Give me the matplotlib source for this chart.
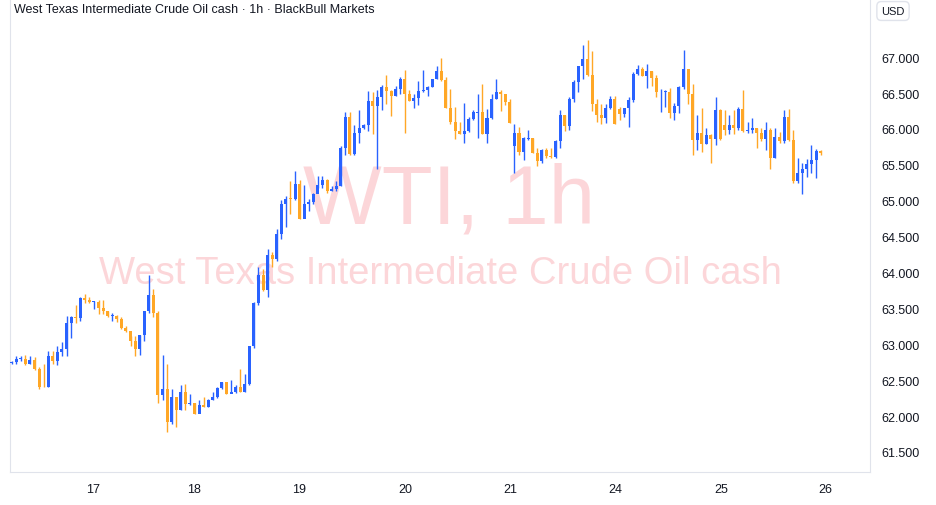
import matplotlib
matplotlib.use("Agg")
import matplotlib.pyplot as plt
from matplotlib.patches import Rectangle

plt.rcParams['font.family'] = ['Liberation Sans', 'DejaVu Sans']

closes = [62.75,62.80,62.80,62.73,62.78,62.65,62.41,62.40,62.83,62.76,62.89,62.93,63.30,63.38,63.36,63.65,63.61,63.59,63.59,63.50,
63.46,63.39,63.40,63.35,63.22,63.18,63.04,62.93,63.13,63.47,63.69,63.43,62.29,62.37,61.92,62.27,62.09,62.33,62.17,62.18,
62.03,62.15,62.13,62.23,62.27,62.39,62.48,62.31,62.33,62.41,62.34,62.44,62.97,63.58,63.97,63.76,64.25,64.19,64.54,64.95,
65.03,65.02,65.23,64.75,64.95,64.98,65.10,65.22,65.29,65.14,65.16,65.21,65.74,66.17,65.65,65.94,66.01,66.05,66.39,66.32,
66.44,66.58,66.53,66.46,66.55,66.69,66.49,66.39,66.43,66.53,66.54,66.59,66.69,66.81,66.68,66.29,66.10,65.97,65.93,65.97,
66.14,66.23,66.23,65.93,66.15,66.41,66.52,66.48,66.37,66.08,65.95,65.68,65.87,65.87,65.67,65.55,65.70,65.62,65.61,65.83,
66.19,66.04,66.41,66.66,66.87,66.97,66.75,66.35,66.19,66.15,66.29,66.41,66.07,66.21,66.29,66.40,66.76,66.83,66.74,66.80,
66.71,66.51,66.52,66.52,66.22,66.32,66.59,66.83,66.48,65.84,65.94,65.79,65.91,65.86,66.27,65.86,65.99,66.05,66.01,66.28,
65.97,65.98,66.01,65.94,65.86,65.98,65.59,65.89,65.83,66.17,65.85,65.27,65.39,65.44,65.51,65.56,65.69,65.67]
highs = [62.77,62.84,62.84,62.85,62.84,62.82,62.68,62.73,62.90,62.90,62.98,63.03,63.40,63.40,63.55,63.66,63.70,63.66,63.60,63.61,
63.62,63.46,63.44,63.41,63.38,63.25,63.11,63.11,63.13,63.47,63.97,63.77,63.47,62.85,62.73,62.38,62.26,62.43,62.45,62.31,
62.18,62.23,62.26,62.24,62.33,62.40,62.48,62.48,62.50,62.43,62.66,62.59,62.98,63.59,64.07,64.05,64.33,64.28,64.61,65.01,
65.07,65.28,65.42,65.29,65.22,65.02,65.11,65.35,65.35,65.30,65.21,65.28,65.76,66.24,66.24,66.05,66.27,66.07,66.53,66.52,
66.54,66.61,66.75,66.54,66.60,66.72,66.82,66.54,66.48,66.67,66.82,66.60,66.69,66.87,66.99,66.72,66.56,66.30,66.09,66.36,
66.16,66.27,66.48,66.62,66.28,66.48,66.69,66.54,66.47,66.41,66.07,66.03,65.89,65.99,65.88,65.74,65.72,65.73,65.74,65.85,
66.27,66.19,66.44,66.68,66.87,67.17,67.24,67.09,66.41,66.35,66.35,66.46,66.46,66.30,66.29,66.44,66.79,66.89,66.86,66.91,
66.80,66.75,66.56,66.54,66.57,66.36,66.60,67.10,66.84,66.62,66.19,66.29,66.01,65.93,66.44,66.28,66.26,66.19,66.26,66.30,
66.54,66.10,66.15,66.01,66.01,66.10,66.01,66.01,65.96,66.27,66.28,65.98,65.59,65.52,65.58,65.77,65.72,65.70]
lows = [62.73,62.72,62.77,62.71,62.72,62.64,62.38,62.40,62.40,62.73,62.71,62.84,62.84,63.08,63.29,63.33,63.58,63.58,63.49,63.42,
63.42,63.38,63.33,63.31,63.21,63.17,62.98,62.84,62.85,63.05,63.44,63.38,62.18,62.23,61.78,61.89,61.85,62.08,62.09,62.16,
62.03,62.06,62.12,62.13,62.22,62.25,62.37,62.31,62.32,62.32,62.33,62.34,62.43,62.95,63.54,63.74,63.66,64.07,64.16,64.46,
64.63,64.81,65.01,64.74,64.85,64.86,64.95,65.17,65.18,65.11,65.14,65.14,65.21,65.63,65.63,65.63,65.80,66.00,65.97,65.93,
65.44,66.27,66.35,66.18,66.46,66.48,65.94,66.39,66.29,66.33,66.51,66.46,66.59,66.69,66.67,66.29,66.07,65.86,65.93,65.80,
65.96,66.13,65.88,65.93,65.81,66.14,66.41,66.25,66.33,66.08,65.38,65.63,65.57,65.84,65.67,65.49,65.53,65.60,65.60,65.60,
65.74,65.97,65.98,66.38,66.52,66.69,66.74,66.25,66.10,66.07,66.08,66.28,66.07,66.13,66.17,66.03,66.38,66.75,66.74,66.57,
66.60,66.44,66.24,66.31,66.15,66.13,66.22,66.56,66.35,65.63,65.70,65.68,65.79,65.52,65.77,65.84,65.91,65.93,65.93,65.98,
65.96,65.94,65.95,65.73,65.83,65.71,65.44,65.59,65.81,65.80,65.83,65.25,65.24,65.10,65.33,65.39,65.31,65.63]
open_gaps = {110: 65.76, 133: 66.28, 156: 66.05}
first_open = 62.75
day_labels = ["17", "18", "19", "20", "21", "24", "25", "26"]
day_pos = [17.8, 39.9, 62.9, 86.1, 109.0, 132.0, 155.2, 178.1]
price_ticks = [61.5, 62.0, 62.5, 63.0, 63.5, 64.0, 64.5, 65.0, 65.5, 66.0, 66.5, 67.0]

opens = [first_open] + closes[:-1]
for k, v in open_gaps.items():
    opens[k] = v

UP, DN = "#2962ff", "#ffa726"
fig = plt.figure(figsize=(9.37, 5.06), dpi=100)
ax = fig.add_axes([10/937, 33/506, 860/937, 473/506])
ax.set_xlim(-0.37, 187.8)
ax.set_ylim(61.22, 67.81)

for i, (o, h, l, c) in enumerate(zip(opens, highs, lows, closes)):
    col = UP if c >= o else DN
    ax.vlines(i, l, h, color=col, lw=1.0, zorder=3)
    b0, b1 = min(o, c), max(o, c)
    if b1 - b0 < 0.012:
        b0, b1 = (o + c) / 2 - 0.006, (o + c) / 2 + 0.006
    ax.add_patch(Rectangle((i - 0.33, b0), 0.66, b1 - b0, color=col, lw=0, zorder=3))

ax.text(0.51, 0.575, "WTI, 1h", transform=ax.transAxes, ha="center", va="center",
        fontsize=60, color="#f23645", alpha=0.2, zorder=1)
ax.text(0.5, 0.42, "West Texas Intermediate Crude Oil cash", transform=ax.transAxes,
        ha="center", va="center", fontsize=27.5, color="#f23645", alpha=0.2, zorder=1)

ax.yaxis.tick_right()
ax.set_yticks(price_ticks)
ax.set_yticklabels([f"{p:.3f}" for p in price_ticks])
ax.set_xticks(day_pos)
ax.set_xticklabels(day_labels)
ax.tick_params(axis="both", length=0, labelsize=9, colors="#131722", pad=8)
ax.spines["top"].set_visible(False)
for s in ["left", "right", "bottom"]:
    ax.spines[s].set_color("#e0e3eb")

fig.text(14/937, 1 - 10/506, "West Texas Intermediate Crude Oil cash · 1h · BlackBull Markets",
         ha="left", va="center", fontsize=9, color="#131722")
fig.text(893/937, 1 - 12/506, "USD", ha="center", va="center", fontsize=8, color="#131722",
         bbox=dict(boxstyle="round,pad=0.4", fc="white", ec="#e0e3eb"))
fig.savefig("out.png", dpi=100)
